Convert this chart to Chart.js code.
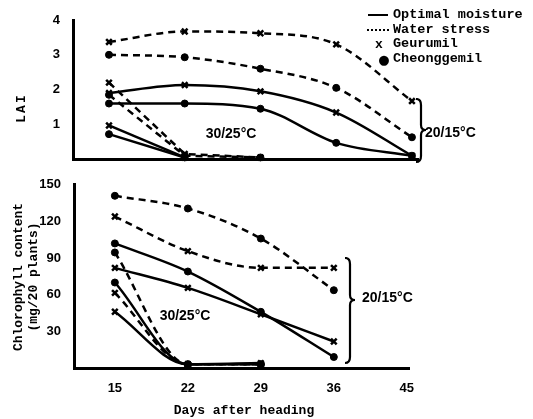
<!DOCTYPE html>
<html><head><meta charset="utf-8">
<script src="https://cdn.jsdelivr.net/npm/chart.js@4"></script>
<style>
html,body{margin:0;padding:0;background:#fff;}
#wrap{position:relative;width:533px;height:419px;overflow:hidden;background:#fff;}
canvas{position:absolute;left:0;}
.t{position:absolute;white-space:nowrap;color:#000;line-height:1;}
.mono{font-family:"Liberation Mono","DejaVu Sans Mono",monospace;font-weight:bold;}
.sans{font-family:"Liberation Sans",Arial,sans-serif;font-weight:bold;}
.c{transform:translate(-50%,-50%);}
.l{transform:translate(0,-50%);}
.rot{transform:translate(-50%,-50%) rotate(-90deg);}
.sym{position:absolute;}
</style></head>
<body><div id="wrap">
<canvas id="c1" width="533" height="172" style="top:0"></canvas>
<canvas id="c2" width="533" height="247" style="top:172px"></canvas>

<!-- legend -->
<div class="sym" style="left:368px;top:14px;width:20px;border-top:2.5px solid #000"></div>
<div class="t mono l" style="left:393px;top:15px;font-size:13.5px">Optimal moisture</div>
<div class="sym" style="left:367px;top:29px;width:22px;border-top:2px dotted #000"></div>
<div class="t mono l" style="left:393px;top:30px;font-size:13.5px">Water stress</div>
<div class="t mono c" style="left:379px;top:44px;font-size:13px">x</div>
<div class="t mono l" style="left:393px;top:44px;font-size:13.5px">Geurumil</div>
<div class="t c" style="left:384px;top:59px;font-size:13px;font-family:'DejaVu Sans',sans-serif">●</div>
<div class="t mono l" style="left:393px;top:59px;font-size:13.5px">Cheonggemil</div>

<!-- axis titles -->
<div class="t mono rot" style="left:21px;top:108px;font-size:13px;letter-spacing:2px">LAI</div>
<div class="t mono rot" style="left:18px;top:277px;font-size:13px">Chlorophyll content</div>
<div class="t mono rot" style="left:33px;top:277px;font-size:13px">(mg/20 plants)</div>
<div class="t mono c" style="left:244px;top:410px;font-size:13px">Days after heading</div>

<!-- annotations -->
<div class="t sans c" style="left:231px;top:133px;font-size:14px">30/25°C</div>
<div class="t sans c" style="left:185px;top:315px;font-size:14px">30/25°C</div>
<div class="t sans l" style="left:425px;top:132px;font-size:14px">20/15°C</div>
<div class="t sans l" style="left:362px;top:297px;font-size:14px">20/15°C</div>

<svg class="sym" style="left:414px;top:98px" width="14" height="66">
<path d="M2,1 Q7,1 7,7 L7,27 Q7,32 12,32 Q7,32 7,37 L7,58 Q7,64 2,64" fill="none" stroke="#000" stroke-width="2.2"/></svg>
<svg class="sym" style="left:343px;top:257px" width="14" height="108">
<path d="M2,1 Q7,1 7,7 L7,38 Q7,43 12,43 Q7,43 7,48 L7,100 Q7,106 2,106" fill="none" stroke="#000" stroke-width="2.2"/></svg>
</div>
<script>
// ---- data ----
const days = ['15','22','29','36','45'];
const laiTicks = [0,1,2,3,4];
const chlTicks = [0,30,60,90,120,150];

// LAI, 20/15°C
const laiOptGeu20 = [1.9, 2.13, 1.95, 1.34, 0.1];
const laiOptChe20 = [1.6, 1.6, 1.45, 0.47, 0.1];
const laiWsGeu20  = [3.37, 3.67, 3.62, 3.3, 1.67];
const laiWsChe20  = [3.0, 2.93, 2.6, 2.05, 0.63];
// LAI, 30/25°C
const laiOptGeu30 = [0.97, 0.05, null, null, null];
const laiOptChe30 = [0.72, 0.05, null, null, null];
const laiWsGeu30  = [2.2, 0.15, 0.05, null, null];
const laiWsChe30  = [1.85, 0.1, 0.05, null, null];

// Chlorophyll, 20/15°C
const chlWsChe20  = [141, 130.6, 106, 63.7, null];
const chlWsGeu20  = [124, 95.7, 82, 82, null];
const chlOptChe20 = [102, 79, 46, 9, null];
const chlOptGeu20 = [82, 65.6, 44, 21.7, null];
// Chlorophyll, 30/25°C
const chlWsChe30  = [94.6, 3, 3, null, null];
const chlOptChe30 = [70, 3, 3, null, null];
const chlWsGeu30  = [61.5, 3, 3, null, null];
const chlOptGeu30 = [46, 3, 4, null, null];

// ---- helpers ----
const pts = arr => arr.map((v,i)=>({x:i, y:v}));
const DASH = [7,5];
function ds(arr, dashed, marker, smooth){
  return {
    data: pts(arr),
    borderColor:'#000', backgroundColor:'#000',
    borderWidth: 2.5,
    borderDash: dashed ? DASH : [],
    pointStyle: marker === 'x' ? 'crossRot' : 'circle',
    pointRadius: marker === 'x' ? 4 : 3.5,
    pointBorderWidth: marker === 'x' ? 2.5 : 1,
    pointHoverRadius: 0,
    cubicInterpolationMode: smooth ? 'monotone' : 'default',
    tension: 0,
    fill:false, spanGaps:false, clip:false
  };
}
const tickFont = {family:'"Liberation Sans", Arial, sans-serif', size:13, weight:'bold'};
function xScale(min, max, h, showLabels){
  return {
    type:'linear', min, max,
    afterBuildTicks: s => { s.ticks = days.map((d,i)=>({value:i})); },
    afterFit: s => { s.height = h; },
    grid:{display:false},
    border:{display:true, color:'#000', width:3},
    ticks:{display:showLabels, color:'#000', font:tickFont, padding:5, maxRotation:0,
      callback: v => days[v] ?? ''}
  };
}
function yScale(min, max, tickVals, w){
  return {
    type:'linear', min, max,
    afterBuildTicks: s => { s.ticks = tickVals.map(v=>({value:v})); },
    afterFit: s => { s.width = w; },
    grid:{display:false},
    border:{display:true, color:'#000', width:3},
    ticks:{color:'#000', font:tickFont, padding:5, callback: v => v === 0 ? '' : v}
  };
}
const common = {
  responsive:false, animation:false, devicePixelRatio:1,
  plugins:{legend:{display:false}, tooltip:{enabled:false}},
  events:[]
};

new Chart(document.getElementById('c1'), {
  type:'line',
  data:{datasets:[
    ds(laiWsGeu20, true, 'x', true),
    ds(laiWsChe20, true, 'o', true),
    ds(laiOptGeu20, false, 'x', true),
    ds(laiOptChe20, false, 'o', true),
    ds(laiWsGeu30, true, 'x', false),
    ds(laiWsChe30, true, 'o', false),
    ds(laiOptGeu30, false, 'x', false),
    ds(laiOptChe30, false, 'o', false)
  ]},
  options:Object.assign({}, common, {
    layout:{padding:{left:0, right:115, top:20, bottom:0}},
    scales:{ x:xScale(-0.475, 4.08, 6, false), y:yScale(0, 4, laiTicks, 73) }
  })
});

new Chart(document.getElementById('c2'), {
  type:'line',
  data:{datasets:[
    ds(chlWsChe20, true, 'o', true),
    ds(chlWsGeu20, true, 'x', true),
    ds(chlOptChe20, false, 'o', true),
    ds(chlOptGeu20, false, 'x', true),
    ds(chlWsChe30, true, 'o', true),
    ds(chlOptChe30, false, 'o', true),
    ds(chlWsGeu30, true, 'x', true),
    ds(chlOptGeu30, false, 'x', true)
  ]},
  options:Object.assign({}, common, {
    layout:{padding:{left:0, right:124, top:10, bottom:0}},
    scales:{ x:xScale(-0.56, 4.03, 51, true), y:yScale(0, 150, chlTicks, 74) }
  })
});
</script>
</body></html>
